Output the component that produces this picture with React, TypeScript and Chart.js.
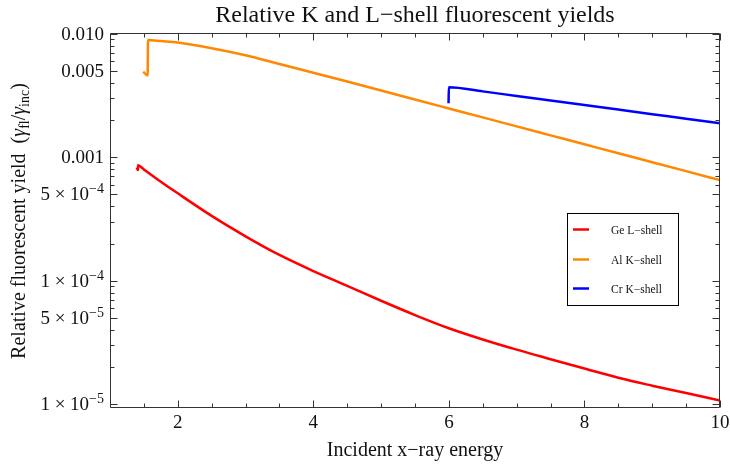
import React, { useEffect, useRef } from "react";
import { Chart, registerables } from "chart.js";

Chart.register(...registerables);

// ---------- data ----------
const geEnergy = [1.395, 1.412, 1.414, 1.5, 1.75, 2, 2.5, 3, 3.5, 4, 4.5, 5, 5.5, 6, 6.5, 7, 7.5, 8, 8.5, 9, 9.5, 10];
const geYield = [8.25e-4, 7.88e-4, 8.6e-4, 7.96e-4, 6.34e-4, 5.1e-4, 3.35e-4, 2.29e-4, 1.617e-4, 1.198e-4, 9.1e-5, 6.89e-5, 5.28e-5, 4.13e-5, 3.35e-5, 2.77e-5, 2.32e-5, 1.948e-5, 1.64e-5, 1.416e-5, 1.234e-5, 1.072e-5];

const alEnergy = [1.49, 1.556, 1.56, 1.75, 2, 2.5, 3, 3.5, 4, 4.5, 5, 5.5, 6, 6.5, 7, 7.5, 8, 8.5, 9, 9.5, 10];
const alYield = [4.92e-3, 4.58e-3, 8.88e-3, 8.7e-3, 8.46e-3, 7.62e-3, 6.68e-3, 5.68e-3, 4.83e-3, 4.1e-3, 3.47e-3, 2.93e-3, 2.48e-3, 2.1e-3, 1.776e-3, 1.503e-3, 1.272e-3, 1.076e-3, 9.11e-4, 7.71e-4, 6.52e-4];

const crEnergy = [5.995, 6.0, 6.5, 7, 7.5, 8, 8.5, 9, 9.5, 10];
const crYield = [2.73e-3, 3.68e-3, 3.41e-3, 3.13e-3, 2.88e-3, 2.65e-3, 2.43e-3, 2.23e-3, 2.05e-3, 1.88e-3];

const seriesNames = ["Ge L\u2212shell", "Al K\u2212shell", "Cr K\u2212shell"];
const seriesColors = ["#ff0000", "#ff8800", "#0000ff"];

const xMajorTicks = [2, 4, 6, 8, 10];
const xMinorTicks = [1.5, 2.5, 3, 3.5, 4.5, 5, 5.5, 6.5, 7, 7.5, 8.5, 9, 9.5];
const xTickLabels = ["2", "4", "6", "8", "10"];

const yMajorTicks = [0.01, 0.005, 0.001, 5e-4, 1e-4, 5e-5, 1e-5];
const yTickLabels = ["0.010", "0.005", "0.001", "5 \u00d7 10^\u22124", "1 \u00d7 10^\u22124", "5 \u00d7 10^\u22125", "1 \u00d7 10^\u22125"];
const yMinorMultipliers = [2, 3, 4, 6, 7, 8, 9];
const yDecades = [1e-6, 1e-5, 1e-4, 1e-3];

const chartTitle = "Relative K and L\u2212shell fluorescent yields";
const xTitle = "Incident x\u2212ray energy";

const X_MIN = 1;
const X_MAX = 10;
const Y_MIN = 9.34e-6;
const Y_MAX = 0.01012;

const FONT = '"Liberation Serif", "Times New Roman", serif';

type Part = { t: string; s: number; dy?: number; it?: boolean };

function fontOf(p: Part) {
  return `${p.it ? "italic " : ""}${p.s}px ${FONT}`;
}

function richWidth(ctx: CanvasRenderingContext2D, parts: Part[]) {
  let w = 0;
  for (const p of parts) {
    ctx.font = fontOf(p);
    w += ctx.measureText(p.t).width;
  }
  return w;
}

function drawRich(ctx: CanvasRenderingContext2D, parts: Part[], x: number, y: number, align: "left" | "right" | "center") {
  const w = richWidth(ctx, parts);
  let cx = align === "left" ? x : align === "right" ? x - w : x - w / 2;
  ctx.textAlign = "left";
  ctx.textBaseline = "alphabetic";
  for (const p of parts) {
    ctx.font = fontOf(p);
    ctx.fillText(p.t, cx, y + (p.dy || 0));
    cx += ctx.measureText(p.t).width;
  }
}

function labelParts(label: string, size: number): Part[] {
  const idx = label.indexOf("^");
  if (idx < 0) return [{ t: label, s: size }];
  return [
    { t: label.slice(0, idx), s: size },
    { t: label.slice(idx + 1), s: Math.round(size * 0.72), dy: -7 },
  ];
}

const framePlugin = {
  id: "mmaFrame",
  afterDatasetsDraw(chart: any) {
    const { ctx, chartArea: a, scales } = chart;
    const xs = scales.x;
    const ys = scales.y;
    const L = Math.round(a.left) + 0.5;
    const R = Math.round(a.right) - 0.5;
    const T = Math.round(a.top) + 0.5;
    const B = Math.round(a.bottom) - 0.5;
    ctx.save();
    ctx.strokeStyle = "#333333";
    ctx.lineWidth = 1;
    ctx.beginPath();
    ctx.rect(L, T, R - L, B - T);
    ctx.stroke();

    const majLen = 7;
    const minLen = 4;
    ctx.beginPath();
    const xTick = (v: number, len: number) => {
      const px = Math.round(xs.getPixelForValue(v)) + 0.5;
      ctx.moveTo(px, B);
      ctx.lineTo(px, B - len);
      ctx.moveTo(px, T);
      ctx.lineTo(px, T + len);
    };
    const yTick = (v: number, len: number) => {
      const py = Math.round(ys.getPixelForValue(v)) + 0.5;
      ctx.moveTo(L, py);
      ctx.lineTo(L + len, py);
      ctx.moveTo(R, py);
      ctx.lineTo(R - len, py);
    };
    xMajorTicks.forEach((v) => xTick(v, majLen));
    xMinorTicks.forEach((v) => xTick(v, minLen));
    yMajorTicks.forEach((v) => yTick(v, majLen));
    yDecades.forEach((d) =>
      yMinorMultipliers.forEach((m) => {
        const v = d * m;
        if (v > Y_MIN && v < Y_MAX) yTick(v, minLen);
      })
    );
    ctx.stroke();

    ctx.fillStyle = "#111111";
    // x tick labels
    xMajorTicks.forEach((v, i) => {
      const px = xs.getPixelForValue(v);
      drawRich(ctx, [{ t: xTickLabels[i], s: 19 }], px, 428, "center");
    });
    // y tick labels
    yMajorTicks.forEach((v, i) => {
      const py = ys.getPixelForValue(v);
      drawRich(ctx, labelParts(yTickLabels[i], 19), a.left - 6, py + 6, "right");
    });

    // chart title
    drawRich(ctx, [{ t: chartTitle, s: 24 }], (a.left + a.right) / 2, 22, "center");
    // x title
    drawRich(ctx, [{ t: xTitle, s: 20 }], (a.left + a.right) / 2, 456, "center");
    // y title (rotated)
    const yParts: Part[] = [
      { t: "Relative fluorescent yield  (", s: 20 },
      { t: "\u03b3", s: 20, it: true },
      { t: "fl", s: 14, dy: 4 },
      { t: "/", s: 20 },
      { t: "\u03b3", s: 20, it: true },
      { t: "inc", s: 14, dy: 4 },
      { t: ")", s: 20 },
    ];
    ctx.save();
    ctx.translate(25, 221);
    ctx.rotate(-Math.PI / 2);
    drawRich(ctx, yParts, 0, 0, "center");
    ctx.restore();

    // legend
    const lx = 567.5, ly = 213.5, lw = 111, lh = 92;
    ctx.fillStyle = "#ffffff";
    ctx.fillRect(lx, ly, lw, lh);
    ctx.strokeStyle = "#000000";
    ctx.strokeRect(lx, ly, lw, lh);
    const rowY = [229.5, 259.5, 288.5];
    seriesNames.forEach((name, i) => {
      ctx.strokeStyle = seriesColors[i];
      ctx.lineWidth = 2.5;
      ctx.beginPath();
      ctx.moveTo(573, rowY[i]);
      ctx.lineTo(589, rowY[i]);
      ctx.stroke();
      ctx.fillStyle = "#111111";
      drawRich(ctx, [{ t: name, s: 11.5 }], 611, rowY[i] + 4, "left");
    });
    ctx.restore();
  },
};

function pts(xv: number[], yv: number[]) {
  return xv.map((x, i) => ({ x, y: yv[i] }));
}

export default function App() {
  const ref = useRef<HTMLCanvasElement | null>(null);
  useEffect(() => {
    if (!ref.current) return;
    const mk = (i: number, data: { x: number; y: number }[]) => ({
      label: seriesNames[i],
      data,
      borderColor: seriesColors[i],
      backgroundColor: seriesColors[i],
      borderWidth: 2.5,
      pointRadius: 0,
      fill: false,
      cubicInterpolationMode: "monotone" as const,
    });
    const chart = new Chart(ref.current, {
      type: "line",
      data: {
        datasets: [
          mk(0, pts(geEnergy, geYield)),
          mk(1, pts(alEnergy, alYield)),
          mk(2, pts(crEnergy, crYield)),
        ],
      },
      options: {
        animation: false,
        responsive: false,
        devicePixelRatio: 1,
        layout: { padding: { left: 110, right: 10, top: 33, bottom: 57 } },
        scales: {
          x: { type: "linear", min: X_MIN, max: X_MAX, display: false },
          y: { type: "logarithmic", min: Y_MIN, max: Y_MAX, display: false },
        },
        plugins: {
          legend: { display: false },
          title: { display: false },
          tooltip: { enabled: false },
        },
      },
      plugins: [framePlugin],
    });
    return () => chart.destroy();
  }, []);
  return (
    <div style={{ position: "absolute", left: 0, top: 0, width: 730, height: 465, background: "#fff" }}>
      <canvas ref={ref} width={730} height={465} style={{ display: "block" }} />
    </div>
  );
}
